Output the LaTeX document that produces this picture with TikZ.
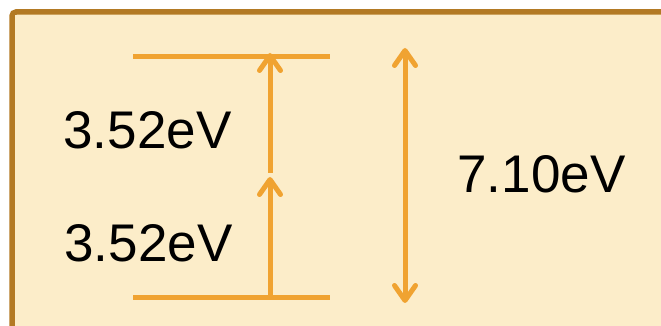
\documentclass[tikz,border=0pt]{standalone}
\usepackage{fontspec}
\setmainfont{Liberation Sans}
\usetikzlibrary{arrows.meta}
\definecolor{panelfill}{HTML}{FCEDC9}
\definecolor{paneledge}{HTML}{B37A24}
\definecolor{levelorange}{HTML}{F0A331}
\tikzset{
  level/.style={draw=levelorange, line width=5pt},
  transition/.style={draw=levelorange, line width=5pt,
    -{Straight Barb[length=15pt, width=21pt, line cap=round, round]}},
  gap/.style={draw=levelorange, line width=5pt,
    {Straight Barb[length=15pt, width=21pt, line cap=round, round]}-{Straight Barb[length=15pt, width=21pt, line cap=round, round]}},
  energy/.style={font=\fontsize{53}{60}\selectfont, text=black, inner sep=0pt, anchor=base}
}
\begin{document}
\begin{tikzpicture}[x=1pt, y=1pt]
  \useasboundingbox (0,0) rectangle (661,326);
  \clip (0,0) rectangle (661,326);
  % panel running past the right and bottom edges
  \draw[paneledge, fill=panelfill, line width=5.5pt, rounded corners=4pt]
    (12,-40) -- (12,314) -- (720,314);
  \fill[panelfill] (14.75,-40) rectangle (720,311.25);

  % energy levels
  \coordinate (lowL) at (133,28);
  \coordinate (lowR) at (330,28);
  \coordinate (upL) at (133,269);
  \coordinate (upR) at (330,269);
  \draw[level] (lowL) -- (lowR);
  \draw[level] (upL) -- (upR);

  % two-step excitation
  \coordinate (stepA0) at (270,28);
  \coordinate (stepA1) at (270,149);
  \coordinate (stepB0) at (270,153);
  \coordinate (stepB1) at (270,273);
  \draw[transition] (stepA0) -- (stepA1);
  \draw[transition, line cap=butt] (stepB0) -- (stepB1);

  % total gap
  \coordinate (gapLow) at (405,23);
  \coordinate (gapHigh) at (405,278);
  \draw[gap] (gapLow) -- (gapHigh);

  % labels
  \node[energy] (eUpper) at (147.5,177) {3.52eV};
  \node[energy] (eLower) at (148.5,64) {3.52eV};
  \node[energy] (eTotal) at (541.5,133) {7.10eV};
\end{tikzpicture}
\end{document}
